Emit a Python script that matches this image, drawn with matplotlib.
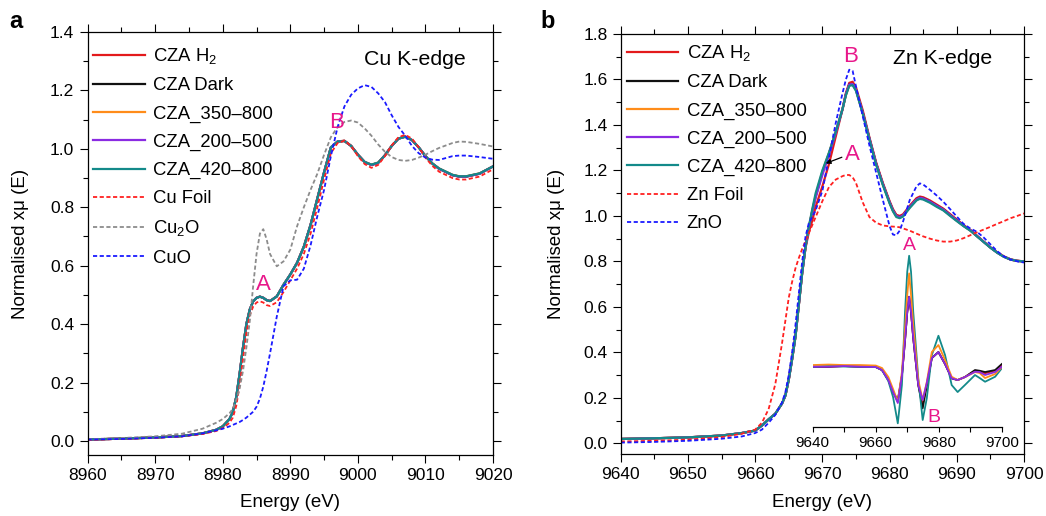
import matplotlib
matplotlib.use('Agg')
import matplotlib.pyplot as plt
from matplotlib.ticker import MultipleLocator, FixedLocator

plt.rcParams['font.family'] = ['Liberation Sans', 'DejaVu Sans']
plt.rcParams['mathtext.fontset'] = 'custom'
plt.rcParams['mathtext.rm'] = 'Liberation Sans'
plt.rcParams['mathtext.it'] = 'Liberation Sans:italic'
plt.rcParams['mathtext.bf'] = 'Liberation Sans:bold'

# ---------------- Panel a: Cu K-edge ----------------
cu_e = [8960, 8965, 8970, 8974, 8977, 8979, 8980, 8981, 8981.5, 8982, 8982.5, 8983, 8983.5,
        8984, 8984.5, 8985, 8985.5, 8986, 8986.5, 8987, 8988, 8989, 8990, 8991, 8992, 8993,
        8994, 8995, 8996, 8997, 8998, 8999, 9000, 9001, 9002, 9003, 9004, 9005, 9006, 9007,
        9008, 9009, 9010, 9011, 9012, 9014, 9015, 9016, 9018, 9020]
cu_cza_h2 = [0.005, 0.008, 0.012, 0.017, 0.026, 0.038, 0.050, 0.075, 0.100, 0.150, 0.230, 0.320, 0.400,
             0.450, 0.478, 0.490, 0.494, 0.490, 0.482, 0.479, 0.495, 0.535, 0.570, 0.610, 0.665, 0.740,
             0.830, 0.920, 1.005, 1.025, 1.028, 1.010, 0.980, 0.955, 0.945, 0.952, 0.978, 1.010, 1.035, 1.042,
             1.030, 1.005, 0.975, 0.950, 0.932, 0.910, 0.905, 0.905, 0.915, 0.940]
cu_cza_dark = [0.005, 0.008, 0.012, 0.017, 0.026, 0.038, 0.050, 0.075, 0.100, 0.150, 0.230, 0.320, 0.400,
               0.450, 0.478, 0.490, 0.494, 0.490, 0.482, 0.479, 0.495, 0.535, 0.570, 0.610, 0.665, 0.740,
               0.830, 0.920, 1.005, 1.025, 1.027, 1.010, 0.980, 0.955, 0.945, 0.952, 0.978, 1.010, 1.035, 1.042,
               1.030, 1.005, 0.975, 0.950, 0.932, 0.910, 0.905, 0.905, 0.915, 0.940]
cu_cza_350 = [0.005, 0.008, 0.012, 0.017, 0.026, 0.038, 0.050, 0.075, 0.100, 0.150, 0.230, 0.320, 0.400,
              0.450, 0.478, 0.490, 0.494, 0.490, 0.482, 0.479, 0.495, 0.535, 0.570, 0.610, 0.665, 0.740,
              0.830, 0.920, 1.005, 1.025, 1.027, 1.010, 0.980, 0.955, 0.946, 0.953, 0.978, 1.010, 1.035, 1.041,
              1.030, 1.005, 0.975, 0.950, 0.933, 0.911, 0.906, 0.906, 0.916, 0.940]
cu_cza_200 = [0.005, 0.008, 0.012, 0.017, 0.026, 0.038, 0.050, 0.075, 0.100, 0.150, 0.230, 0.320, 0.400,
              0.450, 0.478, 0.490, 0.494, 0.490, 0.482, 0.479, 0.495, 0.535, 0.570, 0.610, 0.665, 0.740,
              0.830, 0.920, 1.005, 1.025, 1.027, 1.010, 0.980, 0.955, 0.945, 0.952, 0.978, 1.010, 1.035, 1.042,
              1.030, 1.005, 0.975, 0.950, 0.932, 0.910, 0.905, 0.905, 0.915, 0.940]
cu_cza_420 = [0.005, 0.008, 0.012, 0.017, 0.026, 0.038, 0.050, 0.075, 0.100, 0.150, 0.230, 0.320, 0.400,
              0.450, 0.478, 0.490, 0.494, 0.490, 0.482, 0.479, 0.495, 0.535, 0.570, 0.610, 0.665, 0.740,
              0.830, 0.920, 1.005, 1.025, 1.027, 1.010, 0.980, 0.955, 0.946, 0.953, 0.978, 1.010, 1.035, 1.041,
              1.030, 1.005, 0.975, 0.950, 0.933, 0.911, 0.906, 0.906, 0.916, 0.940]
cu_foil = [0.004, 0.007, 0.011, 0.016, 0.024, 0.034, 0.044, 0.062, 0.080, 0.120, 0.190, 0.280, 0.370,
           0.430, 0.460, 0.474, 0.478, 0.474, 0.465, 0.462, 0.475, 0.510, 0.550, 0.590, 0.640, 0.710,
           0.800, 0.895, 0.985, 1.020, 1.028, 1.010, 0.975, 0.948, 0.935, 0.945, 0.975, 1.012, 1.040, 1.048,
           1.035, 1.005, 0.970, 0.942, 0.922, 0.900, 0.895, 0.895, 0.905, 0.930]
cu2o = [0.006, 0.010, 0.016, 0.025, 0.042, 0.062, 0.075, 0.095, 0.110, 0.140, 0.180, 0.240, 0.320,
        0.410, 0.530, 0.640, 0.710, 0.725, 0.690, 0.640, 0.598, 0.615, 0.655, 0.735, 0.800, 0.860,
        0.915, 0.980, 1.040, 1.075, 1.092, 1.097, 1.090, 1.070, 1.045, 1.015, 0.990, 0.972, 0.962, 0.959,
        0.962, 0.970, 0.980, 0.992, 1.003, 1.020, 1.025, 1.024, 1.017, 1.008]
cuo = [0.005, 0.007, 0.011, 0.016, 0.026, 0.036, 0.042, 0.050, 0.055, 0.060, 0.065, 0.072, 0.080,
       0.090, 0.100, 0.117, 0.145, 0.186, 0.240, 0.300, 0.426, 0.530, 0.550, 0.552, 0.590, 0.670,
       0.770, 0.860, 0.975, 1.075, 1.145, 1.185, 1.207, 1.218, 1.212, 1.190, 1.160, 1.115, 1.075, 1.045,
       1.010, 0.985, 0.970, 0.963, 0.962, 0.975, 0.977, 0.977, 0.972, 0.966]

# ---------------- Panel b: Zn K-edge ----------------
zn_e = [9640, 9645, 9650, 9655, 9658, 9660, 9661, 9662, 9663, 9664, 9664.5, 9665, 9665.5, 9666,
        9666.5, 9667, 9667.5, 9668, 9668.5, 9669, 9670, 9671, 9672, 9673, 9673.5, 9674, 9674.5,
        9675, 9676, 9677, 9678, 9679, 9680, 9680.5, 9681, 9681.5, 9682, 9683, 9684, 9684.5, 9685,
        9686, 9687, 9688, 9689, 9690, 9691, 9692, 9693, 9694, 9695, 9696, 9697, 9698, 9699, 9700]
zn_cza_h2 = [0.019, 0.022, 0.026, 0.034, 0.045, 0.056, 0.078, 0.105, 0.130, 0.175, 0.210, 0.280, 0.370, 0.470,
             0.610, 0.750, 0.860, 0.930, 0.980, 1.040, 1.130, 1.230, 1.350, 1.470, 1.540, 1.585, 1.590,
             1.565, 1.465, 1.345, 1.235, 1.145, 1.065, 1.030, 1.005, 1.000, 1.007, 1.045, 1.078, 1.085, 1.082,
             1.068, 1.050, 1.032, 1.008, 0.984, 0.960, 0.939, 0.913, 0.887, 0.862, 0.840, 0.822, 0.809, 0.803, 0.800]
zn_cza_dark = [0.019, 0.022, 0.026, 0.034, 0.045, 0.056, 0.078, 0.105, 0.130, 0.175, 0.210, 0.280, 0.370, 0.470,
               0.610, 0.750, 0.865, 0.950, 1.020, 1.085, 1.190, 1.275, 1.370, 1.470, 1.535, 1.578, 1.580,
               1.555, 1.455, 1.340, 1.230, 1.140, 1.060, 1.025, 1.000, 0.995, 1.002, 1.040, 1.072, 1.080, 1.077,
               1.063, 1.045, 1.028, 1.004, 0.980, 0.957, 0.937, 0.911, 0.886, 0.861, 0.839, 0.821, 0.808, 0.802, 0.800]
zn_cza_350 = [0.019, 0.022, 0.026, 0.034, 0.045, 0.056, 0.078, 0.105, 0.130, 0.175, 0.210, 0.280, 0.370, 0.470,
              0.610, 0.750, 0.865, 0.950, 1.025, 1.090, 1.195, 1.278, 1.370, 1.470, 1.532, 1.575, 1.578,
              1.553, 1.453, 1.338, 1.228, 1.138, 1.058, 1.023, 0.998, 0.993, 1.000, 1.038, 1.070, 1.078, 1.075,
              1.061, 1.043, 1.026, 1.002, 0.979, 0.956, 0.936, 0.911, 0.886, 0.861, 0.839, 0.821, 0.808, 0.802, 0.800]
zn_cza_200 = [0.019, 0.022, 0.026, 0.034, 0.045, 0.056, 0.078, 0.105, 0.130, 0.175, 0.210, 0.280, 0.370, 0.470,
              0.610, 0.750, 0.865, 0.950, 1.020, 1.080, 1.180, 1.270, 1.365, 1.470, 1.535, 1.578, 1.580,
              1.555, 1.455, 1.340, 1.230, 1.140, 1.060, 1.025, 1.000, 0.995, 1.002, 1.040, 1.072, 1.080, 1.077,
              1.063, 1.045, 1.028, 1.004, 0.980, 0.957, 0.937, 0.911, 0.886, 0.861, 0.839, 0.821, 0.808, 0.802, 0.800]
zn_cza_420 = [0.019, 0.022, 0.026, 0.034, 0.045, 0.056, 0.078, 0.105, 0.130, 0.175, 0.210, 0.280, 0.370, 0.470,
              0.610, 0.750, 0.865, 0.955, 1.030, 1.100, 1.200, 1.280, 1.370, 1.470, 1.530, 1.572, 1.575,
              1.550, 1.450, 1.335, 1.225, 1.135, 1.055, 1.020, 0.995, 0.990, 0.997, 1.035, 1.068, 1.075, 1.072,
              1.058, 1.040, 1.024, 1.000, 0.977, 0.955, 0.935, 0.910, 0.885, 0.860, 0.838, 0.820, 0.808, 0.802, 0.800]
zn_foil = [0.008, 0.011, 0.016, 0.027, 0.042, 0.060, 0.090, 0.150, 0.260, 0.440, 0.540, 0.640, 0.710, 0.770,
           0.815, 0.855, 0.890, 0.925, 0.960, 0.995, 1.065, 1.128, 1.160, 1.175, 1.180, 1.180, 1.170,
           1.145, 1.060, 0.995, 0.970, 0.958, 0.954, 0.953, 0.952, 0.950, 0.945, 0.935, 0.922, 0.916, 0.910,
           0.900, 0.892, 0.887, 0.887, 0.892, 0.902, 0.915, 0.928, 0.940, 0.952, 0.965, 0.977, 0.990, 1.000, 1.011]
zno = [0.003, 0.006, 0.011, 0.020, 0.030, 0.045, 0.060, 0.090, 0.125, 0.180, 0.225, 0.300, 0.400, 0.520,
       0.660, 0.800, 0.910, 0.970, 0.995, 1.025, 1.110, 1.260, 1.410, 1.540, 1.600, 1.643, 1.638,
       1.570, 1.440, 1.310, 1.190, 1.070, 0.955, 0.918, 0.915, 0.935, 0.975, 1.070, 1.130, 1.143, 1.138,
       1.115, 1.090, 1.062, 1.030, 0.997, 0.965, 0.945, 0.930, 0.905, 0.875, 0.845, 0.822, 0.808, 0.800, 0.795]

# ---------------- Inset: first derivative (arb. units) ----------------
ins_e = [9640, 9645, 9650, 9655, 9660, 9662, 9664, 9665.5, 9667, 9668.3, 9669.3, 9670, 9670.6, 9671.2,
         9671.9, 9673.5, 9674.9, 9676.2, 9677.8, 9679.9, 9682, 9684.1, 9686, 9688.3, 9691.5, 9693,
         9694.7, 9697.9, 9700]
ins_h2 = [0, 0, 0.0014, 0, -0.0006, -0.0066, -0.0266, -0.0506, -0.0700, -0.0186, 0.0534, 0.1094, 0.140,
          0.1094, 0.0574, -0.0366, -0.0750, -0.0360, 0.0174, 0.0294, 0.0054, -0.0232, -0.0266, -0.0206,
          -0.0080, -0.0090, -0.0130, -0.0080, 0.0030]
ins_dark = [0, 0, 0.0014, 0, -0.0006, -0.0066, -0.0266, -0.0506, -0.0666, -0.0186, 0.0534, 0.1094, 0.140,
            0.1094, 0.0574, -0.0366, -0.0832, -0.0380, 0.0174, 0.0294, 0.0054, -0.0232, -0.0266, -0.0206,
            -0.0066, -0.0080, -0.0106, -0.0066, 0.0054]
ins_350 = [0.0034, 0.0044, 0.0034, 0.0034, 0.0024, -0.0026, -0.0206, -0.0446, -0.0700, -0.0106, 0.0768,
           0.1434, 0.1868, 0.1434, 0.0834, -0.0266, -0.0666, -0.0306, 0.0294, 0.0434, 0.0134, -0.0200,
           -0.0266, -0.0206, -0.0106, -0.0126, -0.0226, -0.0146, -0.0006]
ins_200 = [0, 0, 0.0014, 0, -0.0006, -0.0066, -0.0266, -0.0506, -0.0726, -0.0186, 0.0534, 0.1094, 0.140,
           0.1094, 0.0574, -0.0366, -0.0666, -0.0326, 0.0174, 0.0294, 0.0054, -0.0232, -0.0266, -0.0206,
           -0.0100, -0.0106, -0.0166, -0.0106, 0]
ins_420 = [0, 0.0014, 0.0004, 0, -0.0006, -0.0066, -0.0286, -0.0606, -0.1132, -0.0366, 0.110, 0.190, 0.222,
           0.190, 0.110, -0.0232, -0.1066, -0.0632, 0.0234, 0.062, 0.0234, -0.0366, -0.0506, -0.0366,
           -0.0166, -0.0226, -0.0300, -0.0200, -0.0032]

labels_a = ['CZA H$_2$', 'CZA Dark', 'CZA_350\u2013800', 'CZA_200\u2013500', 'CZA_420\u2013800',
            'Cu Foil', 'Cu$_2$O', 'CuO']
labels_b = ['CZA H$_2$', 'CZA Dark', 'CZA_350\u2013800', 'CZA_200\u2013500', 'CZA_420\u2013800',
            'Zn Foil', 'ZnO']

C_RED = '#e31a1c'
C_BLACK = '#111111'
C_ORANGE = '#ff8c1a'
C_PURPLE = '#8a2be2'
C_TEAL = '#138a8a'
C_FOIL = '#ff2020'
C_GRAY = '#8c8c8c'
C_BLUE = '#1a1aff'
MAG = '#e8178a'
DASH = (0, (2.3, 1.4))
FS = 12.5      # tick labels
LFS = 13.3     # legend
AFS = 13.5     # axis labels

fig = plt.figure(figsize=(10.46, 5.16), dpi=100)
axa = fig.add_axes([0.0837, 0.1182, 0.3877, 0.8198])
axb = fig.add_axes([0.5934, 0.1202, 0.3856, 0.8139])


def style(ax):
    ax.tick_params(which='both', direction='out', top=True, right=True, labelsize=FS, width=0.8)
    ax.tick_params(which='major', length=6)
    ax.tick_params(which='minor', length=3.5)
    for s in ax.spines.values():
        s.set_linewidth(0.9)


# Panel a
lw = 1.6
axa.plot(cu_e, cu_cza_h2, color=C_RED, lw=lw, label=labels_a[0])
axa.plot(cu_e, cu_cza_dark, color=C_BLACK, lw=lw, label=labels_a[1])
axa.plot(cu_e, cu_cza_350, color=C_ORANGE, lw=lw, label=labels_a[2])
axa.plot(cu_e, cu_cza_200, color=C_PURPLE, lw=lw, label=labels_a[3])
axa.plot(cu_e, cu_cza_420, color=C_TEAL, lw=lw, label=labels_a[4])
axa.plot(cu_e, cu_foil, color=C_FOIL, lw=1.3, ls=DASH, label=labels_a[5])
axa.plot(cu_e, cu2o, color=C_GRAY, lw=1.3, ls=DASH, label=labels_a[6])
axa.plot(cu_e, cuo, color=C_BLUE, lw=1.3, ls=DASH, label=labels_a[7])
axa.set_xlim(8960, 9020)
axa.set_ylim(-0.048, 1.4)
axa.xaxis.set_major_locator(MultipleLocator(10))
axa.xaxis.set_minor_locator(MultipleLocator(5))
axa.yaxis.set_major_locator(MultipleLocator(0.2))
axa.yaxis.set_minor_locator(MultipleLocator(0.1))
axa.yaxis.set_major_formatter(plt.FormatStrFormatter('%.1f'))
style(axa)
axa.set_xlabel('Energy (eV)', fontsize=AFS)
axa.set_ylabel('Normalised x\u03bc (E)', fontsize=AFS)
axa.xaxis.set_label_coords(0.5, -0.093)
axa.yaxis.set_label_coords(-0.145, 0.5)
axa.legend(loc='upper left', bbox_to_anchor=(0.0136, 0.966), frameon=False, fontsize=LFS,
           handlelength=2.8, handletextpad=0.45, labelspacing=0.6, borderpad=0, borderaxespad=0)
axa.text(9008.5, 1.305, 'Cu K-edge', fontsize=15.3, ha='center', va='center')
axa.text(8985.97, 0.534, 'A', fontsize=16, color=MAG, ha='center', va='center')
axa.text(8996.8, 1.089, 'B', fontsize=16, color=MAG, ha='center', va='center')

# Panel b
axb.plot(zn_e, zn_cza_h2, color=C_RED, lw=lw, label=labels_b[0])
axb.plot(zn_e, zn_cza_dark, color=C_BLACK, lw=lw, label=labels_b[1])
axb.plot(zn_e, zn_cza_350, color=C_ORANGE, lw=lw, label=labels_b[2])
axb.plot(zn_e, zn_cza_200, color=C_PURPLE, lw=lw, label=labels_b[3])
axb.plot(zn_e, zn_cza_420, color=C_TEAL, lw=lw, label=labels_b[4])
axb.plot(zn_e, zn_foil, color=C_FOIL, lw=1.3, ls=DASH, label=labels_b[5])
axb.plot(zn_e, zno, color=C_BLUE, lw=1.3, ls=DASH, label=labels_b[6])
axb.set_xlim(9640, 9700)
axb.set_ylim(-0.047, 1.8)
axb.xaxis.set_major_locator(MultipleLocator(10))
axb.xaxis.set_minor_locator(MultipleLocator(5))
axb.yaxis.set_major_locator(MultipleLocator(0.2))
axb.yaxis.set_minor_locator(MultipleLocator(0.1))
axb.yaxis.set_major_formatter(plt.FormatStrFormatter('%.1f'))
style(axb)
axb.set_xlabel('Energy (eV)', fontsize=AFS)
axb.set_ylabel('Normalised x\u03bc (E)', fontsize=AFS)
axb.xaxis.set_label_coords(0.5, -0.096)
axb.yaxis.set_label_coords(-0.138, 0.5)
axb.legend(loc='upper left', bbox_to_anchor=(0.0149, 0.978), frameon=False, fontsize=LFS,
           handlelength=2.8, handletextpad=0.45, labelspacing=0.6, borderpad=0, borderaxespad=0)
axb.text(9687.95, 1.694, 'Zn K-edge', fontsize=15.3, ha='center', va='center')
axb.text(9674.2, 1.70, 'B', fontsize=16, color=MAG, ha='center', va='center')
axb.text(9674.4, 1.272, 'A', fontsize=16, color=MAG, ha='center', va='center')
axb.annotate('', xy=(9670.5, 1.231), xytext=(9672.9, 1.258),
             arrowprops=dict(arrowstyle='-|>', color='black', lw=0.9, mutation_scale=7,
                             shrinkA=0, shrinkB=0))

# Inset
axi = fig.add_axes([0.777, 0.173, 0.1807, 0.3424])
axi.patch.set_alpha(0)
ilw = 1.3
axi.plot(ins_e, ins_h2, color=C_RED, lw=ilw)
axi.plot(ins_e, ins_dark, color=C_BLACK, lw=ilw)
axi.plot(ins_e, ins_420, color=C_TEAL, lw=ilw)
axi.plot(ins_e, ins_350, color=C_ORANGE, lw=ilw)
axi.plot(ins_e, ins_200, color=C_PURPLE, lw=ilw)
axi.set_xlim(9640, 9700)
axi.set_ylim(-0.12, 0.2334)
for side in ['top', 'right', 'left']:
    axi.spines[side].set_visible(False)
axi.spines['bottom'].set_linewidth(0.9)
axi.set_yticks([])
axi.xaxis.set_major_locator(FixedLocator([9640, 9660, 9680, 9700]))
axi.xaxis.set_minor_locator(FixedLocator([9650, 9670, 9690]))
axi.tick_params(which='both', direction='out', length=3.5, width=0.8, labelsize=11, pad=3)
axi.text(9670.6, 0.243, 'A', fontsize=14, color=MAG, ha='center', va='center', clip_on=False)
axi.text(9678.5, -0.102, 'B', fontsize=14, color=MAG, ha='center', va='center', clip_on=False)

fig.text(16 / 1046, 1 - 21 / 516, 'a', fontsize=17, fontweight='bold', ha='center', va='center')
fig.text(548 / 1046, 1 - 21 / 516, 'b', fontsize=17, fontweight='bold', ha='center', va='center')

fig.savefig('out.png', dpi=100)
